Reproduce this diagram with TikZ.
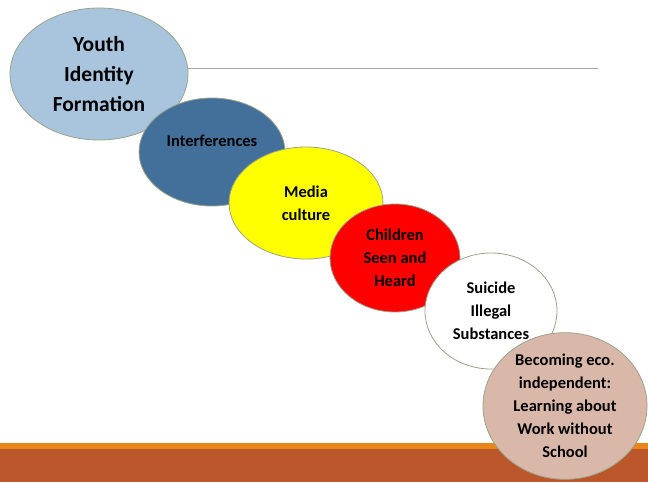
\documentclass[tikz,border=0pt]{standalone}
\usepackage{fontspec}
\setmainfont{Carlito}
\usetikzlibrary{shapes.geometric}
\definecolor{cYouth}{HTML}{A9C5DE}
\definecolor{cInter}{HTML}{43709A}
\definecolor{cMedia}{HTML}{FFFF00}
\definecolor{cChild}{HTML}{FF0000}
\definecolor{cEco}{HTML}{D9B8AA}
\definecolor{cEdge}{HTML}{9AA38A}
\definecolor{cRust}{HTML}{BC562B}
\definecolor{cOrange}{HTML}{E8861A}
\tikzset{
  blob/.style={ellipse, draw=cEdge, line width=0.8pt, inner sep=0pt, align=center,
    font=\bfseries\fontsize{16.5}{23}\selectfont, text=black},
}
\begin{document}
\begin{tikzpicture}[x=1pt,y=-1pt]
\useasboundingbox (0,0) rectangle (648,482);
\fill[white] (0,0) rectangle (648,482);
\coordinate (lineend) at (598,68);
\fill[cOrange] (0,443) rectangle (648,449);
\fill[cRust] (0,449) rectangle (648,482);
\node[blob, fill=cYouth, minimum width=178pt, minimum height=132pt,
  font=\bfseries\fontsize{21.5}{30}\selectfont] (youth) at (99,74) {Youth\\Identity\\Formation};
\draw[gray!70, line width=0.8pt] (youth.east |- lineend) -- (lineend);
\node[blob, fill=cInter, minimum width=146pt, minimum height=108pt] (inter) at (212,152) {\raisebox{22pt}{Interferences}};
\node[blob, fill=cMedia, minimum width=154pt, minimum height=112pt] (media) at (306,203) {Media\\culture};
\node[blob, fill=cChild, minimum width=130pt, minimum height=108pt] (child) at (395,258) {Children\\Seen and\\Heard};
\node[blob, fill=white, minimum width=132pt, minimum height=116pt] (suic) at (491,311) {Suicide\\Illegal\\Substances};
\node[blob, fill=cEco, minimum width=164pt, minimum height=126pt] (eco) at (565,406) {Becoming eco.\\independent:\\Learning about\\Work without\\School};
\end{tikzpicture}
\end{document}
